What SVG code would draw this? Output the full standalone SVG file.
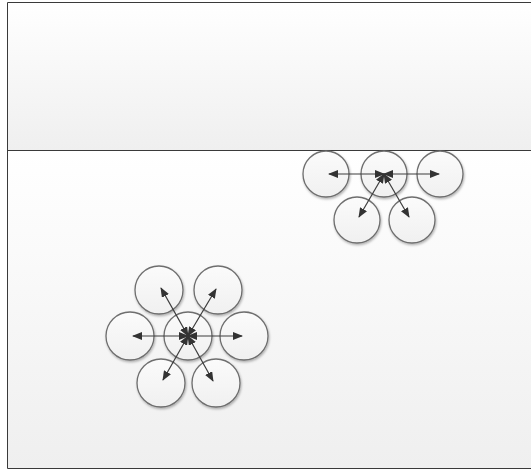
<svg xmlns="http://www.w3.org/2000/svg" width="531" height="472" viewBox="0 0 531 472">
<style>
.frame{stroke:#3a3a3a;stroke-width:1;fill:none}
.node circle{fill:url(#cg);stroke:#6e6e6e;stroke-width:1.3;filter:url(#sh)}
.conn line{stroke:#3c3c3c;stroke-width:1.2;marker-end:url(#ah);marker-start:url(#ah)}
</style>
<defs>
<linearGradient id="bg" x1="0" y1="0" x2="0" y2="1">
<stop offset="0" stop-color="#ffffff"/><stop offset="1" stop-color="#efefef"/>
</linearGradient>
<linearGradient id="cg" x1="0" y1="0" x2="0" y2="1">
<stop offset="0" stop-color="#fbfbfb"/><stop offset="1" stop-color="#f0f0f0"/>
</linearGradient>
<filter id="sh" x="-30%" y="-30%" width="160%" height="160%">
<feDropShadow dx="0.8" dy="1.5" stdDeviation="1" flood-color="#000" flood-opacity="0.3"/>
</filter>
<marker id="ah" markerWidth="10" markerHeight="8" refX="9" refY="4" orient="auto-start-reverse" markerUnits="userSpaceOnUse">
<path d="M0,0 L10,4 L0,8 Z" fill="#333"/>
</marker>
</defs>
<rect x="0" y="0" width="531" height="472" fill="#ffffff"/>
<rect x="7.5" y="2.5" width="530" height="148" fill="url(#bg)"/>
<rect x="7.5" y="150.5" width="530" height="318" fill="url(#bg)"/>
<path class="frame" d="M531,2.5 H7.5 V468.5 H531 M7.5,150.5 H531"/>
<g id="top-cluster">
<g id="t1" class="node"><circle cx="326" cy="174" r="23"/></g>
<g id="t2" class="node"><circle cx="384" cy="174" r="23"/></g>
<g id="t3" class="node"><circle cx="440" cy="174" r="23"/></g>
<g id="t4" class="node"><circle cx="357" cy="220" r="23"/></g>
<g id="t5" class="node"><circle cx="412" cy="220" r="23"/></g>
</g>
<g id="bottom-cluster">
<g id="b1" class="node"><circle cx="159" cy="290" r="24"/></g>
<g id="b2" class="node"><circle cx="218" cy="290" r="24"/></g>
<g id="b3" class="node"><circle cx="130" cy="336" r="24"/></g>
<g id="b4" class="node"><circle cx="188" cy="336" r="24"/></g>
<g id="b5" class="node"><circle cx="244" cy="336" r="24"/></g>
<g id="b6" class="node"><circle cx="161" cy="383" r="24"/></g>
<g id="b7" class="node"><circle cx="216" cy="383" r="24"/></g>
</g>
<g id="connectors" class="conn">
<line x1="384" y1="174" x2="329" y2="174"/>
<line x1="384" y1="174" x2="439" y2="174"/>
<line x1="384" y1="174" x2="359" y2="217"/>
<line x1="384" y1="174" x2="409" y2="217"/>
<line x1="188" y1="336" x2="133" y2="336"/>
<line x1="188" y1="336" x2="242" y2="336"/>
<line x1="188" y1="336" x2="161" y2="288"/>
<line x1="188" y1="336" x2="216" y2="289"/>
<line x1="188" y1="336" x2="163" y2="380"/>
<line x1="188" y1="336" x2="213" y2="381"/>
</g>
</svg>
